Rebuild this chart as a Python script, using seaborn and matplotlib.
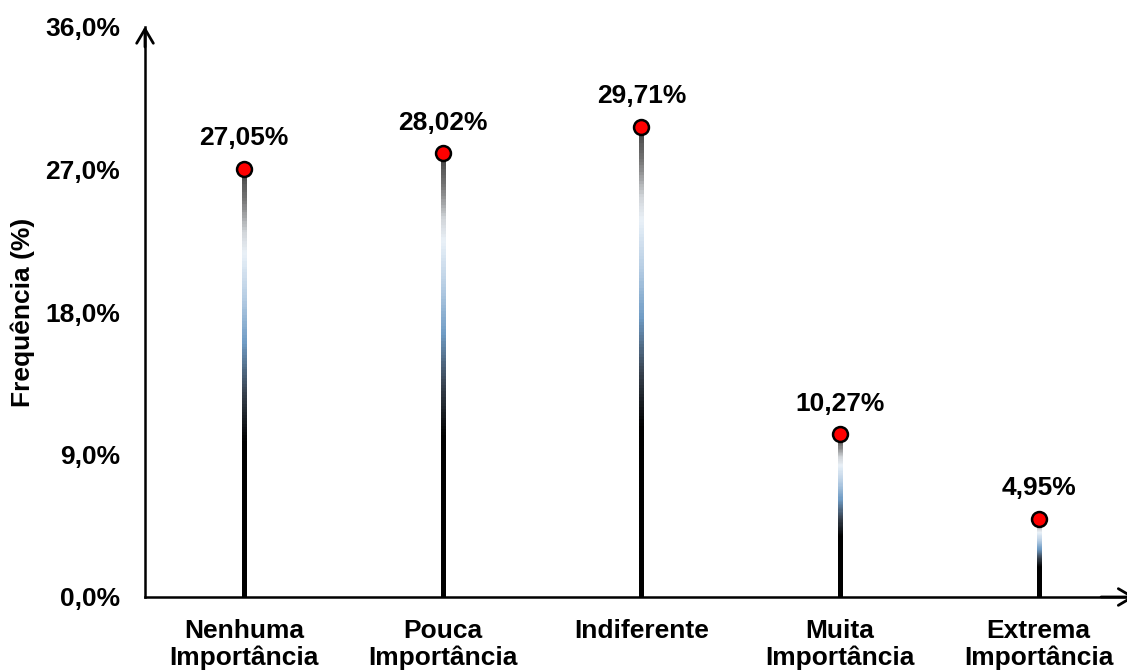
import numpy as np
import pandas as pd
import matplotlib
matplotlib.use("Agg")
import matplotlib.pyplot as plt
import seaborn as sns
from matplotlib.collections import LineCollection
from matplotlib.colors import LinearSegmentedColormap

categories = ["Nenhuma\nImportância", "Pouca\nImportância", "Indiferente",
              "Muita\nImportância", "Extrema\nImportância"]
frequencies = [27.05, 28.02, 29.71, 10.27, 4.95]
y_ticks = [0.0, 9.0, 18.0, 27.0, 36.0]
y_label = "Frequência (%)"

sns.set_theme(style="white")
plt.rcParams["font.family"] = ["Liberation Sans", "DejaVu Sans"]
plt.rcParams["font.weight"] = "bold"
plt.rcParams["text.color"] = "black"
plt.rcParams["xtick.color"] = "black"
plt.rcParams["ytick.color"] = "black"
plt.rcParams["axes.labelcolor"] = "black"

FS = 19

fig = plt.figure(figsize=(11.27, 6.71), dpi=100)
ax = fig.add_axes([145 / 1127, 74 / 671, 993 / 1127, 570 / 671])

df = pd.DataFrame({"categoria": categories, "freq": frequencies})
pos = np.arange(len(categories))

# gradient stems: dark top, pale band, steel blue, black lower part
stem_cmap = LinearSegmentedColormap.from_list(
    "stem",
    [(0.00, "#3a3a3a"), (0.08, "#7a7a7a"), (0.15, "#d0d4d8"),
     (0.20, "#eaf1f8"), (0.31, "#b3cbe2"), (0.41, "#6f9bc4"),
     (0.53, "#36404c"), (0.64, "#000000"), (1.00, "#000000")])
n_seg = 150
for x, v in zip(pos, frequencies):
    ys = np.linspace(v, 0, n_seg + 1)
    segs = [[(x, ys[i]), (x, ys[i + 1])] for i in range(n_seg)]
    t = (np.arange(n_seg) + 0.5) / n_seg
    lc = LineCollection(segs, colors=stem_cmap(t), linewidths=3.5,
                        capstyle="projecting", zorder=2)
    ax.add_collection(lc)

sns.scatterplot(data=df, x="categoria", y="freq", ax=ax, s=115,
                color="#ff0000", edgecolor="black", linewidth=1.8,
                zorder=4, legend=False)

for x, v in zip(pos, frequencies):
    ax.annotate(f"{v:.2f}".replace(".", ",") + "%", (x, v),
                xytext=(0, 22), textcoords="offset points",
                ha="center", va="center", fontsize=FS, fontweight="bold")

ax.set_xlim(-0.5, len(categories) - 0.5)
ax.set_ylim(0, 36)
ax.set_yticks(y_ticks)
ax.set_yticklabels([f"{t:.1f}".replace(".", ",") + "%" for t in y_ticks],
                   fontsize=FS, fontweight="bold")
ax.set_xticks(pos)
ax.set_xticklabels(categories, fontsize=FS, fontweight="bold",
                   linespacing=1.1)
ax.tick_params(axis="y", length=0, pad=18)
ax.tick_params(axis="x", length=0, pad=16)
ax.set_xlabel("")
ax.set_ylabel(y_label, fontsize=FS, fontweight="bold")
ax.yaxis.set_label_coords(-0.111, 0.5)

for side in ["top", "right"]:
    ax.spines[side].set_visible(False)
for side in ["left", "bottom"]:
    ax.spines[side].set_color("black")
    ax.spines[side].set_linewidth(1.8)

# arrow heads at the ends of both axes
head = "->,head_width=0.5,head_length=0.85"
ax.annotate("", xy=(0, 1.006), xytext=(0, 0.96), xycoords="axes fraction",
            arrowprops=dict(arrowstyle=head, lw=2.0, color="black"),
            annotation_clip=False)
ax.annotate("", xy=(1.0, 0), xytext=(0.96, 0), xycoords="axes fraction",
            arrowprops=dict(arrowstyle=head, lw=2.0, color="black"),
            annotation_clip=False)

fig.savefig("out.png", dpi=100)
